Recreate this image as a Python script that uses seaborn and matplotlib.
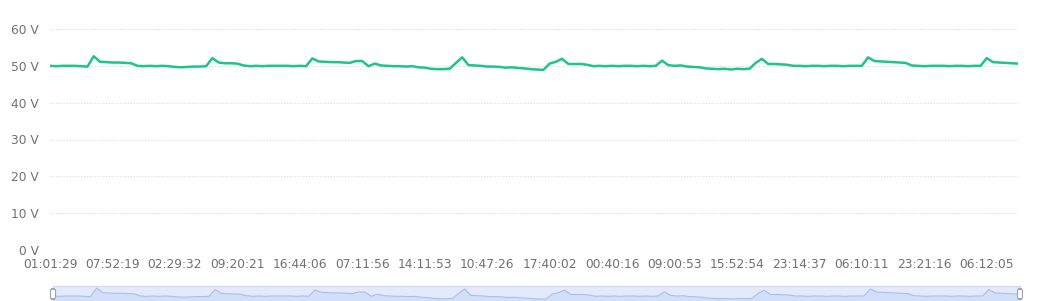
import matplotlib
matplotlib.use("Agg")
import matplotlib.pyplot as plt
import seaborn as sns
import pandas as pd
from matplotlib.patches import FancyBboxPatch

# ---- data ----
voltage = [
    50.0, 49.9, 50.0, 50.0, 50.0, 49.9, 49.8, 52.6, 51.1, 51.0,
    50.9, 50.9, 50.8, 50.7, 50.0, 49.9, 50.0, 49.9, 50.0, 49.9,
    49.7, 49.6, 49.7, 49.8, 49.8, 49.9, 52.1, 50.9, 50.7, 50.7,
    50.6, 50.1, 49.9, 50.0, 49.9, 50.0, 50.0, 50.0, 50.0, 49.9,
    50.0, 49.9, 52.0, 51.2, 51.1, 51.0, 51.0, 50.9, 50.8, 51.3,
    51.3, 49.9, 50.6, 50.1, 50.0, 49.9, 49.9, 49.8, 49.9, 49.6,
    49.5, 49.2, 49.1, 49.1, 49.2, 50.8, 52.3, 50.2, 50.1, 50.0,
    49.8, 49.8, 49.7, 49.5, 49.6, 49.4, 49.3, 49.1, 49.0, 48.9,
    50.6, 51.1, 51.9, 50.5, 50.5, 50.5, 50.3, 49.9, 50.0, 49.9,
    50.0, 49.9, 50.0, 50.0, 49.9, 50.0, 49.9, 50.0, 51.4, 50.2,
    50.0, 50.1, 49.8, 49.7, 49.6, 49.3, 49.2, 49.1, 49.2, 49.0,
    49.2, 49.1, 49.2, 50.8, 51.9, 50.5, 50.5, 50.4, 50.3, 50.0,
    50.0, 49.9, 50.0, 50.0, 49.9, 50.0, 50.0, 49.9, 50.0, 50.0,
    50.0, 52.3, 51.3, 51.2, 51.1, 51.0, 50.9, 50.8, 50.1, 50.0,
    49.9, 50.0, 50.0, 50.0, 49.9, 50.0, 50.0, 49.9, 50.0, 50.0,
    52.1, 51.0, 50.9, 50.8, 50.7, 50.6,
]
tick_labels = [
    "01:01:29", "07:52:19", "02:29:32", "09:20:21", "16:44:06", "07:11:56",
    "14:11:53", "10:47:26", "17:40:02", "00:40:16", "09:00:53", "15:52:54",
    "23:14:37", "06:10:11", "23:21:16", "06:12:05",
]
y_ticks = [0, 10, 20, 30, 40, 50, 60]

df = pd.DataFrame({"idx": range(len(voltage)), "voltage": voltage})
tick_step = 10
tick_pos = [i * tick_step for i in range(len(tick_labels))]

sns.set_style("white")
plt.rcParams["font.family"] = ["DejaVu Sans"]

W, H = 1050, 301
fig = plt.figure(figsize=(W / 100, H / 100), dpi=100)

# main axes: x 50..1018 px, y 29..250 px
ax = fig.add_axes([50 / W, (H - 250) / H, 968 / W, 221 / H])
sns.lineplot(data=df, x="idx", y="voltage", ax=ax, color="#1fc38c", linewidth=1.8)
ax.set_xlim(0, len(voltage) - 1)
ax.set_ylim(0, 60)
ax.set_yticks(y_ticks)
ax.set_yticklabels([f"{v} V" for v in y_ticks])
ax.set_xticks(tick_pos)
ax.set_xticklabels(tick_labels)
ax.set_xlabel("")
ax.set_ylabel("")
for s in ax.spines.values():
    s.set_visible(False)
for v in y_ticks:
    ax.axhline(v, color="#d9d9d9", linewidth=0.8, linestyle=(0, (1, 1.5)), zorder=0)
ax.tick_params(axis="both", length=0, labelsize=8.8, colors="#6e7079")
ax.tick_params(axis="y", pad=8)
ax.tick_params(axis="x", pad=6)

# data-zoom slider at the bottom
sax = fig.add_axes([53 / W, 0.0, 967 / W, 15 / H])
sax.set_facecolor("#e3eafc")
sns.lineplot(data=df, x="idx", y="voltage", ax=sax, color="#a9bcee", linewidth=0.8)
sax.fill_between(df["idx"], df["voltage"], 40, color="#d3def9", linewidth=0)
sax.set_xlim(0, len(voltage) - 1)
sax.set_ylim(48.36, 53.29)
sax.set_xticks([])
sax.set_yticks([])
sax.set_xlabel("")
sax.set_ylabel("")
for s in sax.spines.values():
    s.set_color("#cfd8ef")
    s.set_linewidth(0.8)
sax.spines["bottom"].set_visible(False)

# slider handles
for hx in (53, 1020):
    fig.patches.append(FancyBboxPatch(((hx - 2.5) / W, 2 / H), 5 / W, 10 / H,
                                      boxstyle="round,pad=0,rounding_size=0.004",
                                      transform=fig.transFigure,
                                      facecolor="white", edgecolor="#9aa4b8",
                                      linewidth=0.8, zorder=5))

fig.savefig("out.png", dpi=100)
